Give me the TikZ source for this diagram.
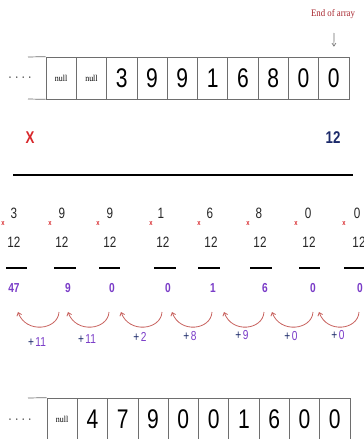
\documentclass[tikz,border=0pt]{standalone}
\usepackage{fontspec}
\setmainfont{Liberation Sans}
\newfontfamily\narrow[FakeStretch=0.78]{Liberation Sans}
\newfontfamily\serifnarrow[FakeStretch=0.88]{Liberation Serif}
\newfontfamily\dotfont{DejaVu Sans}
\usetikzlibrary{arrows.meta}
\definecolor{arcred}{HTML}{C8625E}
\definecolor{purp}{HTML}{7A3CC8}
\definecolor{navy}{HTML}{1C2A6A}
\definecolor{xred}{HTML}{D8262A}
\definecolor{eoared}{HTML}{A8262E}
\definecolor{cellgray}{HTML}{6E6E6E}
\definecolor{numgray}{HTML}{262626}
\tikzset{
  cell/.style={draw=cellgray, line width=0.7pt, minimum width=30.3pt, minimum height=42pt,
    inner sep=0pt, font=\narrow\fontsize{27}{27}\selectfont, text=black},
  nullcell/.style={cell, font=\serifnarrow\fontsize{9}{9}\selectfont},
  edge/.style={draw=cellgray, line width=0.7pt},
  dots/.style={inner sep=0pt, font=\dotfont\fontsize{5}{5}\selectfont, text=numgray},
  midnum/.style={inner sep=0pt, font=\narrow\fontsize{15}{15}\selectfont, text=numgray},
  xmark/.style={inner sep=0pt, font=\narrow\bfseries\fontsize{7.5}{7.5}\selectfont, text=xred},
  res/.style={inner sep=0pt, font=\narrow\bfseries\fontsize{13}{13}\selectfont, text=purp},
  uline/.style={line width=1.8pt, black},
  arcarrow/.style={draw=arcred, line width=0.8pt, -{Straight Barb[length=3pt,width=5pt]}},
  plus/.style={inner sep=0pt, font=\narrow\fontsize{13}{13}\selectfont},
}
\begin{document}
\begin{tikzpicture}[x=1pt,y=-1pt]
\clip (0,0) rectangle (364,439);
\fill[white] (0,0) rectangle (364,439);

% top label
\node[inner sep=0pt, font=\serifnarrow\fontsize{10}{10}\selectfont, text=eoared] (eoa) at (333,14) {End of array};

% top array
\foreach \v [count=\i from 0] in {null,null,3,9,9,1,6,8,0,0}{
  \ifnum\i<2
    \node[nullcell] (t\i) at ({46+30.3*(\i+0.5)},78) {\v};
  \else
    \node[cell] (t\i) at ({46+30.3*(\i+0.5)},78) {\v};
  \fi
}
\coordinate (ttl) at (28,57);
\coordinate (tbl) at (28,99);
\draw[edge] (ttl) -- (t0.north west);
\draw[edge] (tbl) -- (t0.south west);
\node[dots] (tdots) at (20,78) {•\hspace{3.6pt}•\hspace{3.6pt}•\hspace{3.6pt}•};

\coordinate (as) at (334,33);
\draw[draw=cellgray, line width=0.6pt, -{Straight Barb[length=3pt,width=4pt]}, shorten >=10pt] (as) -- (t9.north);

% X and 12
\node[inner sep=0pt, font=\narrow\bfseries\fontsize{17}{17}\selectfont, text=xred] (bigx) at (30,138) {X};
\node[inner sep=0pt, font=\narrow\bfseries\fontsize{17}{17}\selectfont, text=navy] (big12) at (333,138) {12};
\draw[line width=2.4pt, black] (13,175) -- (353,175);

% columns
\foreach \n/\xn/\xt/\xm/\la/\lb/\xr/\r [count=\i] in
  {3/14/14/3/6/27/14/47, 9/62/62/50/54/76/68/9, 9/110/110/98/99/120/112/0,
   1/161/163/151/154/176/168/0, 6/210/211/199/198/220/213/1, 8/259/260/248/250/272/265/6,
   0/308/309/296/299/320/313/0, 0/357/359/344/344/366/360/0}{
  \node[midnum] (n\i) at (\xn,213) {\n};
  \node[xmark] (x\i) at (\xm,224) {x};
  \node[midnum] (m\i) at (\xt,242) {12};
  \draw[uline] (\la,268) -- (\lb,268);
  \node[res] (r\i) at (\xr,288) {\r};
}

% arcs with labels
\foreach \l/\rr/\lab/\lx/\ly [count=\i] in
  {18/59/11/37/342, 68/109/11/87/339, 121/162/2/140/337, 172/212/8/190/336,
   224/264/9/242/335, 272/313/0/291/336, 319/359/0/338/335}{
  \coordinate (al\i) at (\l,312);
  \coordinate (ar\i) at (\rr,312);
  \draw[arcarrow] (ar\i) .. controls (\rr-1,330) and (\l+8,334) .. (al\i);
  \node[plus] (p\i) at (\lx,\ly) {\textcolor{navy}{+\hspace{1.5pt}}\textcolor{purp}{\lab}};
}

% bottom array
\foreach \v [count=\i from 0] in {null,4,7,9,0,0,1,6,0,0}{
  \ifnum\i<1
    \node[nullcell] (b\i) at ({47+30.3*(\i+0.5)},419) {\v};
  \else
    \node[cell] (b\i) at ({47+30.3*(\i+0.5)},419) {\v};
  \fi
}
\coordinate (btl) at (28,398);
\draw[edge] (btl) -- (b0.north west);
\node[dots] (bdots) at (20,420) {•\hspace{3.6pt}•\hspace{3.6pt}•\hspace{3.6pt}•};
\end{tikzpicture}
\end{document}
